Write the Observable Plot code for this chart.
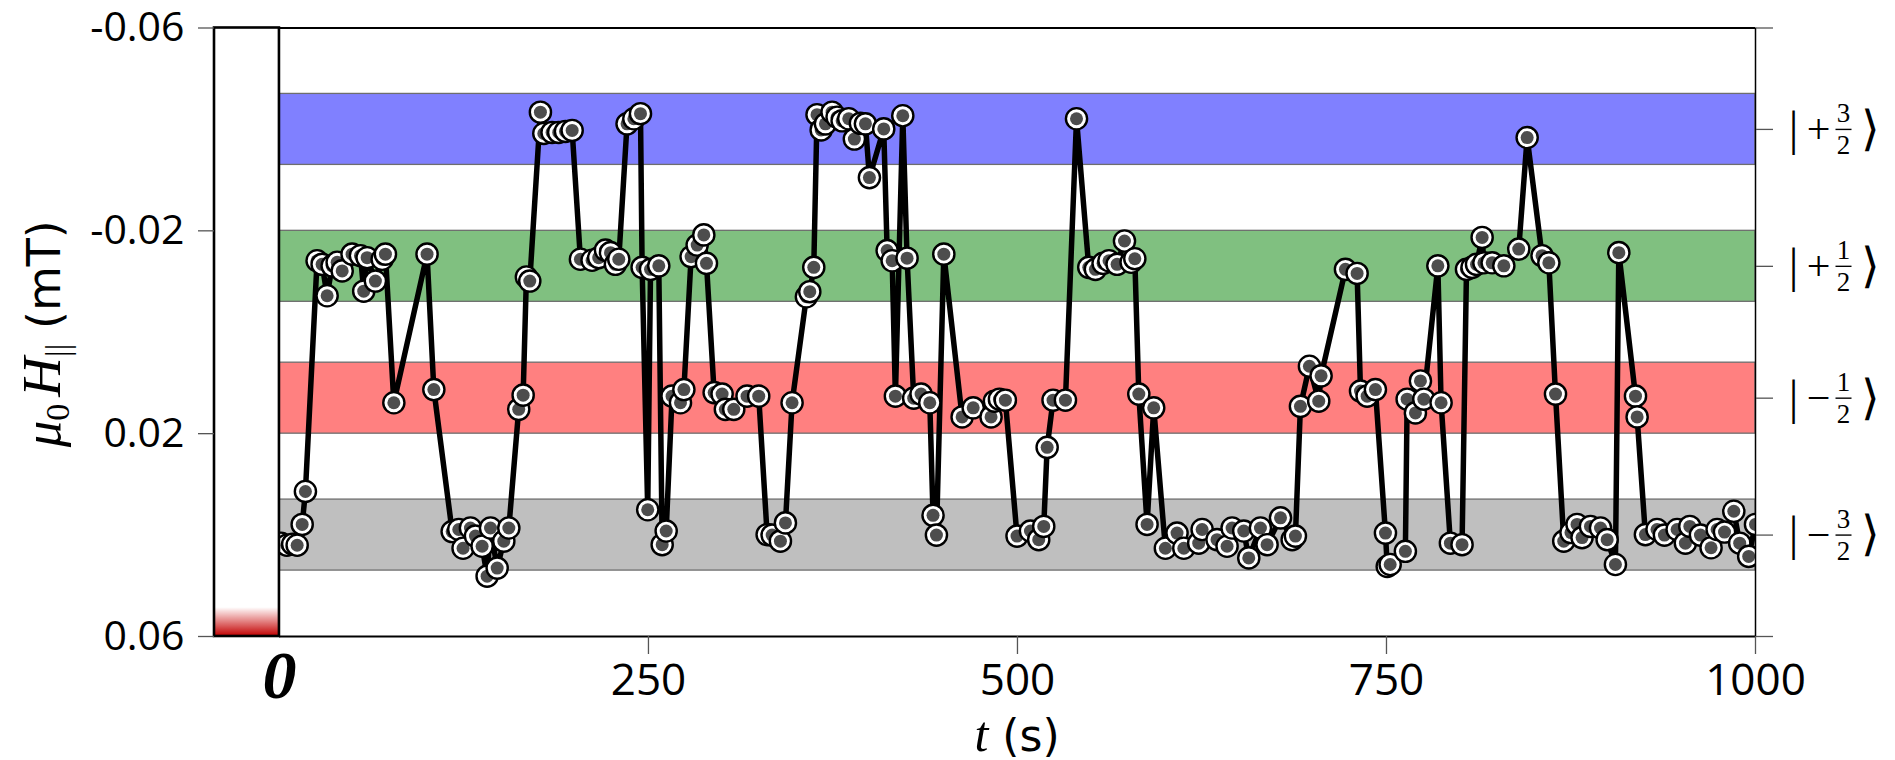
<!DOCTYPE html>
<html><head><meta charset="utf-8">
<script src="https://cdn.jsdelivr.net/npm/d3@7"></script>
<script src="https://cdn.jsdelivr.net/npm/@observablehq/plot@0.6"></script>
<style>html,body{margin:0;padding:0;background:#fff;overflow:hidden}</style>
</head><body><div id="chart"></div>
<script>
// time (s)
const times = [1,5,9,12,15.4,17.6,25.5,28.9,32.3,35.7,39.1,42.5,49.2,54.9,57.1,59.4,65.0,69.6,71.8,77.5,
100.0,104.6,117.0,121.5,124.4,129.4,132.8,137.3,140.7,143.0,147.5,152.0,155.4,162.1,165.1,167.3,169.6,176.8,179.1,184.7,
189.2,193.8,198.3,203.9,211.8,216.3,220.9,224.3,227.6,229.9,235.5,240.1,244.6,245.7,249.5,251.4,257.0,259.3,262.0,266.0,
271.7,274.0,278.9,283.0,287.5,289.3,294.5,299.9,302.1,307.8,316.8,324.7,330.4,333.8,339.4,342.8,347.3,357.0,359.3,362.0,
364.2,367.0,369.9,374.4,377.8,381.2,385.7,389.5,393.6,397.0,399.7,409.4,411.7,415.1,417.3,422.3,425.2,429.7,434.7,440.6,
442.8,445.1,450.1,462.5,470.0,482.1,484.4,487.8,491.8,499.7,508.8,514.4,517.8,520.1,524.1,532.5,540.0,548.3,552.8,558.0,
562.0,567.5,572.5,577.0,579.5,582.2,587.8,592.3,600.2,608.1,612.7,622.8,625.1,635.2,642.0,645.4,653.3,656.7,664.6,669.1,
678.2,686.1,688.3,691.7,697.8,704.1,705.7,722.2,730.1,732.4,736.9,742.5,749.3,750.5,752.5,762.8,764.0,769.6,773.0,775.3,
784.8,787.0,793.3,801.2,804.2,808.0,811.0,814.8,816.0,821.6,829.5,839.6,845.3,855.4,860.0,864.5,870.1,875.0,879.1,882.5,
888.2,895.0,899.5,905.1,907.4,918.7,919.8,925.4,933.3,938.3,946.9,952.5,955.5,962.7,969.9,974.0,979.0,985.3,989.3,995.4,1000.0];
// mu0 H_parallel (mT)
const fields = [0.0416,0.0420,0.0418,0.0420,0.0379,0.0314,-0.0141,-0.0134,-0.0072,-0.0131,-0.0138,-0.0121,-0.0154,-0.0151,-0.0081,-0.0147,-0.0101,-0.0144,-0.0154,0.0139,
-0.0154,0.0113,0.0393,0.0389,0.0426,0.0386,0.0402,0.0422,0.0481,0.0386,0.0465,0.0412,0.0386,0.0152,0.0124,-0.0109,-0.0101,-0.0434,-0.0392,-0.0394,
-0.0394,-0.0396,-0.0398,-0.0144,-0.0142,-0.0147,-0.0162,-0.0157,-0.0134,-0.0144,-0.0411,-0.0421,-0.0431,-0.0128,0.0350,-0.0124,-0.0131,0.0419,0.0392,0.0126,
0.0139,0.0113,-0.0149,-0.0172,-0.0192,-0.0136,0.0119,0.0122,0.0152,0.0152,0.0126,0.0126,0.0399,0.0400,0.0412,0.0376,0.0139,-0.0070,-0.0080,-0.0128,
-0.0429,-0.0399,-0.0411,-0.0434,-0.0424,-0.0417,-0.0421,-0.0381,-0.0412,-0.0411,-0.0305,-0.0401,-0.0161,-0.0141,0.0126,-0.0427,-0.0146,0.0130,0.0122,0.0139,
0.0361,0.0400,-0.0154,0.0167,0.0149,0.0167,0.0136,0.0132,0.0134,0.0402,0.0392,0.0409,0.0383,0.0227,0.0134,0.0134,-0.0421,-0.0128,-0.0124,-0.0136,
-0.0141,-0.0134,-0.0180,-0.0138,-0.0145,0.0122,0.0379,0.0149,0.0426,0.0396,0.0426,0.0416,0.0389,0.0409,0.0422,0.0386,0.0392,0.0445,0.0386,0.0419,
0.0366,0.0409,0.0402,0.0146,0.0067,0.0136,0.0086,-0.0124,-0.0116,0.0116,0.0126,0.0113,0.0396,0.0462,0.0458,0.0432,0.0132,0.0159,0.0096,0.0132,
-0.0131,0.0139,0.0416,0.0419,-0.0124,-0.0128,-0.0134,-0.0187,-0.0137,-0.0137,-0.0131,-0.0164,-0.0384,-0.0151,-0.0137,0.0122,0.0412,0.0395,0.0379,0.0405,
0.0383,0.0386,0.0409,0.0458,-0.0157,0.0126,0.0167,0.0399,0.0389,0.0400,0.0389,0.0416,0.0383,0.0400,0.0425,0.0389,0.0394,0.0353,0.0416,0.0442,0.0379];

// spin states
const stateCenters = [-0.04, -0.013, 0.013, 0.04];
const stateSigns = ["+", "+", "\u2212", "\u2212"];
const stateNumerators = ["3", "1", "1", "3"];
const stateDenominators = ["2", "2", "2", "2"];
const stateColors = ["#8080ff", "#80c080", "#ff8080", "#bfbfbf"];
const bandHalfWidth = 0.007;

const yTicks = [-0.06, -0.02, 0.02, 0.06];
const yTickLabels = ["-0.06", "-0.02", "0.02", "0.06"];
const xTicks = [250, 500, 750, 1000];
const xTickLabels = ["250", "500", "750", "1000"];
const rightTicks = [-0.06, -0.04, -0.013, 0.013, 0.04, 0.06];
const originLabel = ["0"];

const points = times.map((t, i) => ({t, h: fields[i]}));
const states = stateCenters.map((c, i) => ({
  c, lo: c - bandHalfWidth, hi: c + bandHalfWidth,
  sign: stateSigns[i], num: stateNumerators[i], den: stateDenominators[i], color: stateColors[i]
}));

const serif = "Liberation Serif, DejaVu Serif, serif";
const sans = "DejaVu Sans, sans-serif";
const tickFont = "Open Sans, sans-serif";

const defsMark = () => {
  const defs = d3.create("svg:defs");
  const g = defs.append("linearGradient").attr("id", "redFade")
    .attr("x1", 0).attr("y1", 0).attr("x2", 0).attr("y2", 1);
  g.append("stop").attr("offset", "0%").attr("stop-color", "#cc0000").attr("stop-opacity", 0);
  g.append("stop").attr("offset", "100%").attr("stop-color", "#c00000").attr("stop-opacity", 1);
  return defs.node();
};

const yTitleMark = (index, scales) => {
  const cy = (scales.y(-0.06) + scales.y(0.06)) / 2 + 2;
  const t = d3.create("svg:text")
    .attr("transform", `translate(60,${cy}) rotate(-90)`)
    .attr("text-anchor", "middle").attr("fill", "black");
  t.append("tspan").attr("font-family", serif).attr("font-style", "italic").attr("font-size", 53).text("\u03bc");
  t.append("tspan").attr("font-family", serif).attr("font-size", 34).attr("dy", 9).text("0");
  t.append("tspan").attr("font-family", serif).attr("font-style", "italic").attr("font-size", 55).attr("dy", -9).attr("dx", 7).text("H");
  t.append("tspan").attr("font-family", serif).attr("font-size", 33).attr("dy", 9).text("||");
  t.append("tspan").attr("font-family", sans).attr("font-size", 46).attr("dy", -9).text("\u00a0(mT)");
  return t.node();
};

const xTitleMark = (index, scales) => {
  const cx = scales.x(500);
  const t = d3.create("svg:text")
    .attr("transform", `translate(${cx},751)`)
    .attr("text-anchor", "middle").attr("fill", "black");
  t.append("tspan").attr("font-family", serif).attr("font-style", "italic").attr("font-size", 50).text("t");
  t.append("tspan").attr("font-family", sans).attr("font-size", 44).text("\u00a0(s)");
  return t.node();
};

const fractionBar = {draw(context) { context.moveTo(-8, 0); context.lineTo(8, 0); }};

const markerMarks = points.flatMap(p => [
  Plot.dot([p], {x: "t", y: "h", r: 10.6, fill: "white", stroke: "black", strokeWidth: 2.4, clip: true}),
  Plot.dot([p], {x: "t", y: "h", r: 6.5, fill: "#4d4d4d", clip: true})
]);

const chart = Plot.plot({
  width: 1895, height: 760,
  marginLeft: 214, marginRight: 140, marginTop: 27.5, marginBottom: 124,
  x: {domain: [-44, 1000], axis: null},
  y: {domain: [0.06, -0.06], axis: null},
  style: {background: "white", overflow: "visible"},
  marks: [
    defsMark,
    Plot.rect(states, {x1: 0, x2: 1000, y1: "lo", y2: "hi", fill: "color", stroke: "#6e6e6e", strokeWidth: 1.3}),
    Plot.line(points, {x: "t", y: "h", stroke: "black", strokeWidth: 5.5, strokeLinejoin: "round", clip: true}),
    ...markerMarks,
    Plot.rect([0], {x1: -44, x2: 0, y1: -0.06, y2: 0.06, fill: "white"}),
    Plot.rect([0], {x1: -44, x2: 0, y1: 0.0543, y2: 0.06, fill: "url(#redFade)"}),
    Plot.rect([0], {x1: -44, x2: 0, y1: -0.06, y2: 0.06, fill: "none", stroke: "black", strokeWidth: 2.6}),
    Plot.ruleY([-0.06], {x1: 0, x2: 1000, stroke: "black", strokeWidth: 2}),
    Plot.ruleY([0.06], {x1: 0, x2: 1000, stroke: "black", strokeWidth: 2}),
    Plot.ruleX([1000], {y1: -0.06, y2: 0.06, stroke: "black", strokeWidth: 1.5}),
    Plot.axisY(yTicks, {anchor: "left", tickSize: 16, tickPadding: 14, label: null,
      tickFormat: d => yTickLabels[yTicks.indexOf(d)], fontSize: 41, fontFamily: tickFont,
      stroke: "#555", strokeWidth: 1.3, fill: "black"}),
    Plot.axisY(rightTicks, {anchor: "right", tickSize: 17, label: null, tickFormat: () => "",
      stroke: "#555", strokeWidth: 1.3}),
    Plot.axisX(xTicks, {anchor: "bottom", tickSize: 18, tickPadding: 9, label: null,
      tickFormat: d => xTickLabels[xTicks.indexOf(d)], fontSize: 44, fontFamily: tickFont,
      stroke: "#555", strokeWidth: 1.3, fill: "black"}),
    Plot.text(originLabel, {x: 0, y: 0.06, text: d => d, dy: 61, lineAnchor: "bottom",
      fontSize: 68, fontWeight: "bold", fontStyle: "italic", fontFamily: serif, fill: "black"}),
    // ket labels |±m⟩
    Plot.text(states, {x: 1000, y: "c", text: () => "|", dx: 38, fontSize: 48, fontFamily: serif, fill: "black", lineAnchor: "middle"}),
    Plot.text(states, {x: 1000, y: "c", text: "sign", dx: 63, fontSize: 42, fontFamily: serif, fill: "black", lineAnchor: "middle"}),
    Plot.text(states, {x: 1000, y: "c", text: "num", dx: 88, dy: -16, fontSize: 27, fontFamily: serif, fill: "black", lineAnchor: "middle"}),
    Plot.dot(states, {x: 1000, y: "c", dx: 88, dy: 0, symbol: fractionBar, fill: "none", stroke: "black", strokeWidth: 1.4}),
    Plot.text(states, {x: 1000, y: "c", text: "den", dx: 88, dy: 16, fontSize: 27, fontFamily: serif, fill: "black", lineAnchor: "middle"}),
    Plot.text(states, {x: 1000, y: "c", text: () => "\u27e9", dx: 115, fontSize: 48, fontFamily: sans, fontWeight: 300, fill: "black", lineAnchor: "middle"}),
    yTitleMark,
    xTitleMark
  ]
});
document.getElementById("chart").appendChild(chart);
</script>
</body></html>
